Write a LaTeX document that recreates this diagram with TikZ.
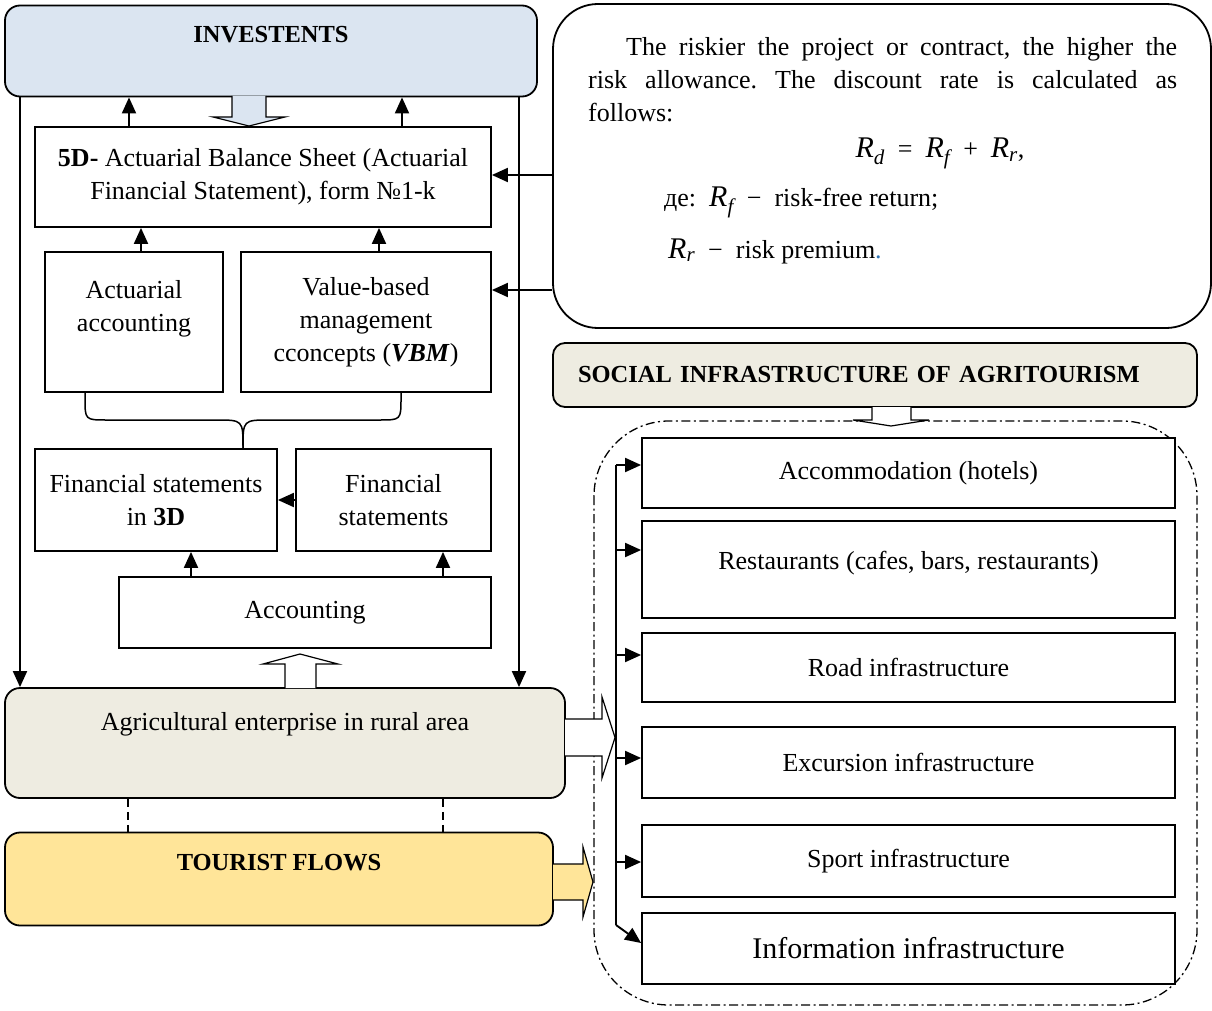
\documentclass[tikz,border=0pt]{standalone}
\usepackage{fontspec}
\setmainfont{Liberation Serif}
\usetikzlibrary{arrows.meta,calc}
\definecolor{invblue}{HTML}{DBE5F1}
\definecolor{tanbg}{HTML}{EEECE1}
\definecolor{goldbg}{HTML}{FFE599}
\definecolor{dotblue}{HTML}{2E74B5}
\newcommand{\mainfs}{\fontsize{26pt}{33pt}\selectfont}
\newcommand{\headfs}{\bfseries\fontsize{24.5pt}{33pt}\selectfont}
\newcommand{\Rv}[1]{{\fontsize{30pt}{33pt}\selectfont\itshape R\textsubscript{#1}}}
\frenchspacing
\begin{document}
\begin{tikzpicture}[x=1pt,y=-1pt,
  box/.style={draw, line width=1.8pt, fill=white, align=center, inner sep=0pt, font=\mainfs},
  rbox/.style={box, rounded corners=15pt},
  arr/.style={line width=1.9pt, -{Triangle[length=16pt,width=14pt]}},
  blk/.style={draw=black, line width=1.2pt, line join=miter},
  dsh/.style={line width=1.5pt, dash pattern=on 8pt off 5pt},
  dd/.style={line width=1.3pt, dash pattern=on 9pt off 3.5pt on 2pt off 3.5pt},
  txt/.style={inner sep=0pt, font=\mainfs},
]
\fill[white] (0,0) rectangle (1212,1011);
\useasboundingbox (0,0) rectangle (1212,1011);

% dash-dot region
\draw[dd, rounded corners=75pt] (594,421) rectangle (1197,1005);

% left column
\node[rbox, fill=invblue, minimum width=532pt, minimum height=91pt, font=\headfs] (inv) at (271,51) {INVESTENTS\\\phantom{X}};
\node[box, minimum width=456pt, minimum height=100pt] (bs) at (263,177) {\textbf{5D-} Actuarial Balance Sheet (Actuarial\\Financial Statement), form №1-k};
\node[box, minimum width=178pt, minimum height=140pt] (aa) at (134,322) {Actuarial\\accounting\\\phantom{x}};
\node[box, minimum width=250pt, minimum height=140pt] (vbm) at (366,322) {Value-based\\management\\cconcepts (\textbf{\textit{VBM}})};
\node[box, minimum width=242pt, minimum height=102pt] (f3) at (156,500) {Financial statements\\in \textbf{3D}};
\node[box, minimum width=195pt, minimum height=102pt] (fs) at (393.5,500) {Financial\\statements};
\node[box, minimum width=372pt, minimum height=71pt] (acc) at (305,612.5) {Accounting};
\node[rbox, fill=tanbg, minimum width=560pt, minimum height=110pt] (agri) at (285,743) {\raisebox{10pt}{Agricultural enterprise in rural area}\\\phantom{x}};
\node[rbox, fill=goldbg, minimum width=548pt, minimum height=93pt, font=\headfs] (tour) at (279,879) {TOURIST FLOWS\\\phantom{X}};

% right text box
\node[box, rounded corners=45pt, minimum width=658pt, minimum height=324pt] (rb) at (882,166) {};
\node[txt, anchor=north west, text width=589pt, align=justify] (ptxt) at (588,37) {\noindent\hspace*{38pt}The riskier the project or contract, the higher the\linebreak risk allowance. The discount rate is calculated as\linebreak follows:};
\node[txt, anchor=base] (form) at (940,158) {\Rv{d}\enspace=\enspace\Rv{f}\enspace+\enspace\Rv{r},};
\node[txt, anchor=base west] (de) at (664,207) {де:\enspace\Rv{f}\enspace−\enspace risk-free return;};
\node[txt, anchor=base west] (rp) at (668,258) {\Rv{r}\enspace−\enspace risk premium\textcolor{dotblue}{.}};

% social infrastructure
\node[box, rounded corners=12pt, fill=tanbg, minimum width=644pt, minimum height=64pt, text width=594pt, align=left, font=\headfs] (sib) at (875,375) {SOCIAL INFRASTRUCTURE OF AGRITOURISM};

\node[box, minimum width=533pt, minimum height=70pt] (l1) at (908.5,473) {Accommodation (hotels)};
\node[box, minimum width=533pt, minimum height=97pt] (l2) at (908.5,569.5) {\raisebox{18pt}{Restaurants (cafes, bars, restaurants)}};
\node[box, minimum width=533pt, minimum height=69pt] (l3) at (908.5,667.5) {Road infrastructure};
\node[box, minimum width=533pt, minimum height=71pt] (l4) at (908.5,762.5) {Excursion infrastructure};
\node[box, minimum width=533pt, minimum height=72pt] (l5) at (908.5,861) {Sport infrastructure};
\node[box, minimum width=533pt, minimum height=71pt, font=\fontsize{30pt}{36pt}\selectfont] (l6) at (908.5,948.5) {Information infrastructure};

% block arrows
\draw[blk, fill=invblue] (232,96) -- (232,117) -- (213,117) -- (249,126) -- (285,117) -- (266,117) -- (266,96);
\draw[blk, fill=white] (285,688) -- (285,664) -- (263,664) -- (300,654) -- (338,664) -- (316,664) -- (316,688);
\draw[blk, fill=white] (565,719) -- (602,719) -- (602,697) -- (615,737.5) -- (602,778) -- (602,756) -- (565,756);
\draw[blk, fill=goldbg] (553,864) -- (583,864) -- (583,847) -- (593,882) -- (583,917) -- (583,900) -- (553,900);
\draw[blk, fill=white] (872,407) -- (872,420) -- (853,420) -- (891,426) -- (929,420) -- (911,420) -- (911,407);

% helper coordinates
\coordinate (xl) at (20,0);
\coordinate (xr) at (519,0);
\coordinate (a1) at (129,0);
\coordinate (a2) at (402,0);
\coordinate (a3) at (141,0);
\coordinate (a4) at (379,0);
\coordinate (a5) at (191,0);
\coordinate (a6) at (443,0);
\coordinate (d1) at (128,0);
\coordinate (d2) at (443,0);
\coordinate (y1) at (0,175);
\coordinate (y2) at (0,290);

% connectors
\draw[arr] (xl |- inv.south) -- (xl |- agri.north);
\draw[arr] (xr |- inv.south) -- (xr |- agri.north);
\draw[arr] (a1 |- bs.north) -- (a1 |- inv.south);
\draw[arr] (a2 |- bs.north) -- (a2 |- inv.south);
\draw[arr] (a3 |- aa.north) -- (a3 |- bs.south);
\draw[arr] (a4 |- vbm.north) -- (a4 |- bs.south);
\draw[arr] (a5 |- acc.north) -- (a5 |- f3.south);
\draw[arr] (a6 |- acc.north) -- (a6 |- fs.south);
\draw[arr] (fs.west) -- (f3.east);
\draw[arr] (rb.west |- y1) -- (bs.east |- y1);
\draw[arr] (rb.west |- y2) -- (vbm.east |- y2);
\draw[dsh] (d1 |- agri.south) -- (d1 |- tour.north);
\draw[dsh] (d2 |- agri.south) -- (d2 |- tour.north);

% brace
\draw[line width=1.5pt] (85,392) -- (85,398) .. controls (85,420) .. (107,420) -- (216,420) .. controls (243,420) .. (243,448);
\draw[line width=1.5pt] (401,392) -- (401,398) .. controls (401,420) .. (379,420) -- (270,420) .. controls (243,420) .. (243,448);

% bus
\coordinate (b1) at (616,465);
\coordinate (b2) at (616,550);
\coordinate (b3) at (616,655);
\coordinate (b4) at (616,758);
\coordinate (b5) at (616,862);
\coordinate (bend) at (616,925);
\draw[line width=1.9pt] (b1) -- (bend);
\draw[arr] (bend) -- ($(l6.west)+(0,-5.5)$);
\draw[arr] (b1) -- (l1.west |- b1);
\draw[arr] (b2) -- (l2.west |- b2);
\draw[arr] (b3) -- (l3.west |- b3);
\draw[arr] (b4) -- (l4.west |- b4);
\draw[arr] (b5) -- (l5.west |- b5);
\end{tikzpicture}
\end{document}
